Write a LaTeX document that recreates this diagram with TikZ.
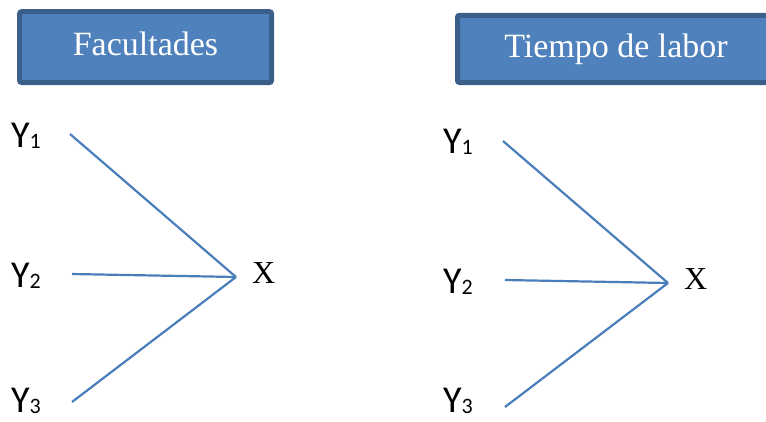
\documentclass[tikz,border=0pt]{standalone}
\usepackage{fontspec}
\setmainfont{Liberation Serif}
\newfontfamily\labfont{Carlito}
\definecolor{boxfill}{HTML}{4F81BD}
\definecolor{boxedge}{HTML}{3A5F8B}
\definecolor{linecol}{HTML}{4A7EBB}
\tikzset{
  titlebox/.style={draw=boxedge, fill=boxfill, line width=5pt, rounded corners=2pt},
  titletext/.style={text=white, inner sep=0pt, anchor=base, font=\fontsize{34}{40}\selectfont},
  ylab/.style={inner sep=0pt, anchor=base west, font=\labfont\fontsize{38}{44}\selectfont},
  xlab/.style={inner sep=0pt, anchor=base west, font=\fontsize{32}{36}\selectfont},
  link/.style={draw=linecol, line width=2.2pt},
}
\newcommand{\ysub}[1]{Y\raisebox{-1pt}{\fontsize{22}{24}\selectfont #1}}
\begin{document}
\begin{tikzpicture}[x=1pt,y=-1pt]
\useasboundingbox (0,0) rectangle (766,421);
\clip (0,0) rectangle (766,421);
% boxes
\draw[titlebox] (19.7,11.7) rectangle (271.5,82.5);
\node[titletext] (fac) at (145.5,55) {Facultades};
\draw[titlebox] (457.5,15.3) rectangle (780,82.5);
\node[titletext] (tie) at (616,57.5) {Tiempo de labor};
% left group
\node[ylab] (ly1) at (11,147) {\ysub{1}};
\node[ylab] (ly2) at (11,287) {\ysub{2}};
\node[ylab] (ly3) at (11,412) {\ysub{3}};
\node[xlab] (lx) at (252,283) {X};
\coordinate (lp1) at (70,134);
\coordinate (lp2) at (72,274);
\coordinate (lp3) at (72,402);
\coordinate (lh) at (236,277);
\draw[link] (lp1) -- (lh);
\draw[link] (lp2) -- (lh);
\draw[link] (lp3) -- (lh);
% right group
\node[ylab] (ry1) at (443,153) {\ysub{1}};
\node[ylab] (ry2) at (443,293) {\ysub{2}};
\node[ylab] (ry3) at (443,412) {\ysub{3}};
\node[xlab] (rx) at (684,289) {X};
\coordinate (rp1) at (503,141);
\coordinate (rp2) at (505,280);
\coordinate (rp3) at (505,407);
\coordinate (rh) at (668,283);
\draw[link] (rp1) -- (rh);
\draw[link] (rp2) -- (rh);
\draw[link] (rp3) -- (rh);
\end{tikzpicture}
\end{document}
